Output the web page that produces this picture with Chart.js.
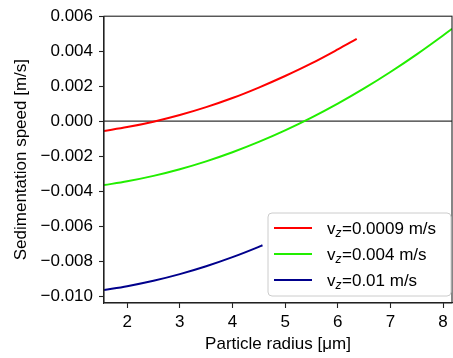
<!DOCTYPE html>
<html>
<head>
<meta charset="utf-8">
<script src="https://cdn.jsdelivr.net/npm/chart.js@4.4.1/dist/chart.umd.min.js"></script>
<style>
  body { margin: 0; background: #fff; }
  #wrap { width: 453px; height: 358px; }
</style>
</head>
<body>
<div id="wrap"><canvas id="chart" width="453" height="358"></canvas></div>
<script>
// values
var radiusRed = [1.56, 2, 2.5, 3, 3.5, 4, 4.5, 5, 5.5, 6, 6.36];
var speedRed = [-0.00056, -0.00034, -0.00003, 0.00035, 0.0008, 0.00132, 0.00192, 0.00258, 0.0033, 0.0041, 0.0047];

var radiusGreen = [1.56, 2, 2.5, 3, 3.5, 4, 4.5, 5, 5.5, 6, 6.5, 7, 7.5, 8, 8.17];
var speedGreen = [-0.00366, -0.00344, -0.00313, -0.00275, -0.0023, -0.00178, -0.00119, -0.00053, 0.0002, 0.001, 0.00187, 0.00281, 0.00382, 0.0049, 0.00528];

var radiusBlue = [1.56, 2, 2.5, 3, 3.5, 4, 4.5, 4.57];
var speedBlue = [-0.00966, -0.00944, -0.00913, -0.00875, -0.0083, -0.00778, -0.00719, -0.0071];

var legendNames = ["0.0009 m/s", "0.004 m/s", "0.01 m/s"];
var lineColors = ["#ff0000", "#22ee00", "#00008c"];

var xTicks = [2, 3, 4, 5, 6, 7, 8];
var yTicks = [-0.010, -0.008, -0.006, -0.004, -0.002, 0.000, 0.002, 0.004, 0.006];

function toPoints(xs, ys) {
    return xs.map(function (x, i) { return { x: x, y: ys[i] }; });
}

var FONT = "'Liberation Sans', Arial, sans-serif";
Chart.defaults.font.family = FONT;
Chart.defaults.font.size = 17;
Chart.defaults.color = "#000";

// frame, zero line and the legend with the subscript z
var extras = {
    id: "extras",
    beforeDatasetsDraw: function (chart) {
        var ctx = chart.ctx, a = chart.chartArea;
        var y0 = chart.scales.y.getPixelForValue(0);
        ctx.save();
        ctx.strokeStyle = "#333";
        ctx.lineWidth = 1.2;
        ctx.beginPath();
        ctx.moveTo(a.left, y0);
        ctx.lineTo(a.right, y0);
        ctx.stroke();
        ctx.restore();
    },
    afterDatasetsDraw: function (chart) {
        var ctx = chart.ctx, a = chart.chartArea;
        ctx.save();
        ctx.strokeStyle = "#222";
        ctx.lineWidth = 1.1;
        ctx.strokeRect(a.left, a.top, a.right - a.left, a.bottom - a.top);

        // legend box
        var bx = 268, by = 213, bw = 183, bh = 83, r = 4;
        ctx.beginPath();
        ctx.moveTo(bx + r, by);
        ctx.arcTo(bx + bw, by, bx + bw, by + bh, r);
        ctx.arcTo(bx + bw, by + bh, bx, by + bh, r);
        ctx.arcTo(bx, by + bh, bx, by, r);
        ctx.arcTo(bx, by, bx + bw, by, r);
        ctx.closePath();
        ctx.fillStyle = "rgba(255,255,255,0.8)";
        ctx.fill();
        ctx.strokeStyle = "#cccccc";
        ctx.lineWidth = 1;
        ctx.stroke();

        for (var i = 0; i < legendNames.length; i++) {
            var ly = 228 + i * 26;
            ctx.strokeStyle = lineColors[i];
            ctx.lineWidth = 2;
            ctx.beginPath();
            ctx.moveTo(274, ly);
            ctx.lineTo(312, ly);
            ctx.stroke();

            ctx.fillStyle = "#000";
            ctx.textBaseline = "alphabetic";
            ctx.textAlign = "left";
            var base = ly + 6;
            var tx = 327;
            ctx.font = "17px " + FONT;
            ctx.fillText("v", tx, base);
            tx += ctx.measureText("v").width;
            ctx.font = "italic 12px " + FONT;
            ctx.fillText("z", tx, base + 3);
            tx += ctx.measureText("z").width + 0.5;
            ctx.font = "17px " + FONT;
            ctx.fillText("=" + legendNames[i], tx, base);
        }
        ctx.restore();
    }
};

var ctx = document.getElementById("chart").getContext("2d");
new Chart(ctx, {
    type: "line",
    data: {
        datasets: [
            { data: toPoints(radiusRed, speedRed), borderColor: lineColors[0] },
            { data: toPoints(radiusGreen, speedGreen), borderColor: lineColors[1] },
            { data: toPoints(radiusBlue, speedBlue), borderColor: lineColors[2] }
        ]
    },
    options: {
        responsive: false,
        animation: false,
        devicePixelRatio: 1,
        layout: { padding: { top: 12, right: 1, left: 0, bottom: 0 } },
        elements: {
            point: { radius: 0 },
            line: { borderWidth: 2, cubicInterpolationMode: "monotone", fill: false }
        },
        plugins: {
            legend: { display: false },
            tooltip: { enabled: false }
        },
        scales: {
            x: {
                type: "linear",
                min: 1.56,
                max: 8.17,
                afterFit: function (s) { s.height = 55; },
                afterBuildTicks: function (s) {
                    s.ticks = xTicks.map(function (v) { return { value: v }; });
                },
                ticks: { padding: 4, maxRotation: 0, autoSkip: false },
                grid: { drawOnChartArea: false, tickLength: 5, tickColor: "#222", tickWidth: 1.1 },
                border: { color: "#222", width: 1.1 },
                title: { display: true, text: "Particle radius [μm]", padding: { top: 0, bottom: 3 } }
            },
            y: {
                min: -0.0104,
                max: 0.006,
                afterFit: function (s) { s.width = 104; },
                afterBuildTicks: function (s) {
                    s.ticks = yTicks.map(function (v) { return { value: v }; });
                },
                ticks: {
                    padding: 6,
                    autoSkip: false,
                    callback: function (v) {
                        return v.toFixed(3).replace("-", "\u2212");
                    }
                },
                grid: { drawOnChartArea: false, tickLength: 5, tickColor: "#222", tickWidth: 1.1 },
                border: { color: "#222", width: 1.1 },
                title: { display: true, text: "Sedimentation speed [m/s]", padding: { top: 11, bottom: 0 } }
            }
        }
    },
    plugins: [extras]
});
</script>
</body>
</html>
